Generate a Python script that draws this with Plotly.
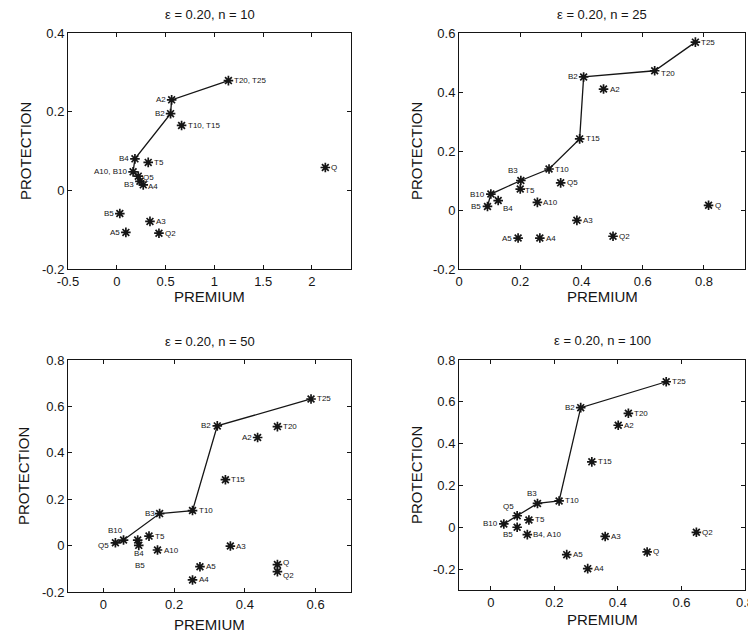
import plotly.graph_objects as go

# ---------------- data ----------------
# Panel 1: epsilon = 0.20, n = 10
p1_names = ["T20, T25", "A2", "B2", "T10, T15", "B4", "T5", "A10, B10", "Q5", "B3", "A4",
            "Q", "B5", "A3", "A5", "Q2"]
p1_premium = [1.144, 0.562, 0.551, 0.664, 0.186, 0.322, 0.167, 0.220, 0.237, 0.271,
              2.137, 0.031, 0.340, 0.093, 0.432]
p1_protection = [0.279, 0.230, 0.195, 0.165, 0.080, 0.071, 0.047, 0.036, 0.023, 0.014,
                 0.058, -0.059, -0.079, -0.107, -0.109]
p1_frontier = ["T20, T25", "A2", "B2", "B4", "A10, B10", "Q5", "B3", "A4"]

# Panel 2: epsilon = 0.20, n = 25
p2_names = ["T25", "T20", "B2", "A2", "T15", "T10", "B3", "Q5", "T5", "B10", "B4", "B5",
            "A10", "Q", "A3", "A5", "A4", "Q2"]
p2_premium = [0.772, 0.639, 0.407, 0.472, 0.394, 0.294, 0.202, 0.332, 0.200, 0.104, 0.128,
              0.093, 0.256, 0.815, 0.385, 0.193, 0.264, 0.503]
p2_protection = [0.569, 0.472, 0.451, 0.410, 0.241, 0.139, 0.100, 0.092, 0.071, 0.054, 0.032,
                 0.012, 0.026, 0.016, -0.035, -0.095, -0.095, -0.089]
p2_frontier = ["T25", "T20", "B2", "T15", "T10", "B3", "B10", "B5"]

# Panel 3: epsilon = 0.20, n = 50
p3_names = ["T25", "B2", "T20", "A2", "T15", "T10", "B3", "B10", "Q5", "T5", "B4", "B5",
            "A10", "A3", "A5", "A4", "Q", "Q2"]
p3_premium = [0.587, 0.322, 0.492, 0.436, 0.345, 0.252, 0.159, 0.057, 0.034, 0.129, 0.097,
              0.100, 0.153, 0.359, 0.273, 0.252, 0.492, 0.492]
p3_protection = [0.632, 0.516, 0.513, 0.466, 0.284, 0.151, 0.138, 0.024, 0.012, 0.041, 0.024,
                 0.001, -0.019, -0.002, -0.091, -0.148, -0.082, -0.112]
p3_frontier = ["T25", "B2", "T10", "B3", "B10", "Q5"]

# Panel 4: epsilon = 0.20, n = 100
p4_names = ["T25", "B2", "T20", "A2", "T15", "T10", "B3", "Q5", "B10", "T5", "B5", "B4, A10",
            "A3", "A5", "A4", "Q", "Q2"]
p4_premium = [0.552, 0.283, 0.433, 0.401, 0.318, 0.215, 0.147, 0.083, 0.041, 0.120, 0.083,
              0.115, 0.360, 0.239, 0.305, 0.492, 0.647]
p4_protection = [0.696, 0.572, 0.545, 0.488, 0.313, 0.126, 0.114, 0.055, 0.016, 0.035, 0.000,
                 -0.035, -0.044, -0.131, -0.198, -0.118, -0.024]
p4_frontier = ["T25", "B2", "T10", "B3", "Q5", "B10"]

titles = ["ε = 0.20, n = 10", "ε = 0.20, n = 25", "ε = 0.20, n = 50", "ε = 0.20, n = 100"]
x_title = "PREMIUM"
y_title = "PROTECTION"

x_ticks = [[-0.5, 0, 0.5, 1, 1.5, 2], [0, 0.2, 0.4, 0.6, 0.8], [0, 0.2, 0.4, 0.6], [0, 0.2, 0.4, 0.6, 0.8]]
x_ticktext = [["-0.5", "0", "0.5", "1", "1.5", "2"], ["0", "0.2", "0.4", "0.6", "0.8"],
              ["0", "0.2", "0.4", "0.6"], ["0", "0.2", "0.4", "0.6", "0.8"]]
y_ticks = [[-0.2, 0, 0.2, 0.4], [-0.2, 0, 0.2, 0.4, 0.6], [-0.2, 0, 0.2, 0.4, 0.6, 0.8],
           [-0.2, 0, 0.2, 0.4, 0.6, 0.8]]
y_ticktext = [["-0.2", "0", "0.2", "0.4"], ["-0.2", "0", "0.2", "0.4", "0.6"],
              ["-0.2", "0", "0.2", "0.4", "0.6", "0.8"], ["-0.2", "0", "0.2", "0.4", "0.6", "0.8"]]

# ---------------- style / layout ----------------
x_ranges = [[-0.5, 2.4], [0, 0.934], [-0.1, 0.7], [-0.1, 0.8]]
y_ranges = [[-0.2, 0.4], [-0.2, 0.6], [-0.2, 0.8], [-0.3, 0.8]]

# the page body has an 8 px margin: figure is placed at (8, 8) and fills the rest of the window
OFF = 8
W, H = 748, 626


def px_x(p):
    return (p - OFF) / W


def px_y(p):
    return 1 - (p - OFF) / H


x_domains = [[px_x(68), px_x(351)], [px_x(459), px_x(745)], [px_x(68), px_x(351)], [px_x(459), px_x(745)]]
y_domains = [[px_y(269), px_y(33)], [px_y(269), px_y(33)], [px_y(592), px_y(360)], [px_y(590), px_y(360)]]
title_px = [15, 15, 341, 340]          # title centre (page px from top)
xtitle_px = [297, 297, 624, 619]       # PREMIUM centre (page px from top)
ytitle_px = [25, 416, 24, 416]         # PROTECTION centre (page px from left)

# label placement: name -> (xanchor, dx, dy) ; default is right of marker
R = ("left", 4, 0)
L = ("right", -4, 0)
p1_lab = {"A2": L, "B2": L, "B4": L, "A10, B10": L, "B3": ("right", -4, 3), "B5": L, "A5": L,
          "Q5": ("left", 3, 1), "A4": ("left", 3, 2)}
p2_lab = {"B2": L, "B3": ("center", -8, -10), "B10": L, "B4": ("left", 3, 8), "B5": L, "A5": L,
          "T20": ("left", 4, 3), "T5": ("left", 3, 1)}
p3_lab = {"B2": L, "A2": L, "B3": ("right", -3, 0), "B10": ("center", -8, -10),
          "Q5": ("right", -4, 3), "B4": ("center", 1, 13), "B5": ("center", 1, 20),
          "Q2": ("left", 4, 4), "Q": ("left", 4, -2)}
p4_lab = {"B2": L, "B3": ("center", -5, -10), "Q5": ("center", -9, -9), "B10": L,
          "B5": ("center", -9, 7)}

panels = [
    (p1_names, p1_premium, p1_protection, p1_frontier, p1_lab),
    (p2_names, p2_premium, p2_protection, p2_frontier, p2_lab),
    (p3_names, p3_premium, p3_protection, p3_frontier, p3_lab),
    (p4_names, p4_premium, p4_protection, p4_frontier, p4_lab),
]

INK = "#151515"
FONT = "Liberation Sans, Arial, sans-serif"

fig = go.Figure()
annotations = []
layout_axes = {}

for i, (names, prem, prot, front, lab) in enumerate(panels):
    k = "" if i == 0 else str(i + 1)
    xa, ya = "x" + k, "y" + k
    idx = {n: j for j, n in enumerate(names)}
    fx = [prem[idx[n]] for n in front]
    fy = [prot[idx[n]] for n in front]
    fig.add_trace(go.Scatter(x=fx, y=fy, mode="lines", line=dict(color=INK, width=1.3),
                             xaxis=xa, yaxis=ya, showlegend=False, hoverinfo="skip"))
    fig.add_trace(go.Scatter(x=prem, y=prot, mode="markers", text=names,
                             marker=dict(symbol="asterisk-open", size=8, color=INK,
                                         line=dict(color=INK, width=1.7)),
                             xaxis=xa, yaxis=ya, showlegend=False))
    for n, px, py in zip(names, prem, prot):
        anc, dx, dy = lab.get(n, R)
        annotations.append(dict(x=px, y=py, xref=xa, yref=ya, text=n, showarrow=False,
                                xanchor=anc, yanchor="middle", xshift=dx, yshift=-dy,
                                font=dict(family=FONT, size=8, color=INK)))
    xc = (x_domains[i][0] + x_domains[i][1]) / 2
    yc = (y_domains[i][0] + y_domains[i][1]) / 2
    annotations.append(dict(x=xc, y=px_y(title_px[i]), xref="paper", yref="paper",
                            text=titles[i], showarrow=False, xanchor="center", yanchor="middle",
                            font=dict(family=FONT, size=13, color=INK)))
    annotations.append(dict(x=xc, y=px_y(xtitle_px[i]), xref="paper", yref="paper",
                            text=x_title, showarrow=False, xanchor="center", yanchor="middle",
                            font=dict(family=FONT, size=15, color=INK)))
    annotations.append(dict(x=px_x(ytitle_px[i]), y=yc, xref="paper", yref="paper",
                            text=y_title, showarrow=False, xanchor="center", yanchor="middle",
                            textangle=-90, font=dict(family=FONT, size=15, color=INK)))
    axis_common = dict(showline=True, linecolor=INK, linewidth=1, mirror="ticks",
                       ticks="inside", ticklen=4, tickcolor=INK, showgrid=False, zeroline=False,
                       automargin=False, tickfont=dict(family=FONT, size=13, color=INK))
    layout_axes["xaxis" + k] = dict(axis_common, domain=x_domains[i], range=x_ranges[i],
                                    anchor=ya, tickvals=x_ticks[i], ticktext=x_ticktext[i])
    layout_axes["yaxis" + k] = dict(axis_common, domain=y_domains[i], range=y_ranges[i],
                                    anchor=xa, tickvals=y_ticks[i], ticktext=y_ticktext[i])

fig.update_layout(width=W, height=H, margin=dict(l=0, r=0, t=0, b=0),
                  paper_bgcolor="white", plot_bgcolor="white",
                  annotations=annotations, **layout_axes)

fig.write_html("out.html")
